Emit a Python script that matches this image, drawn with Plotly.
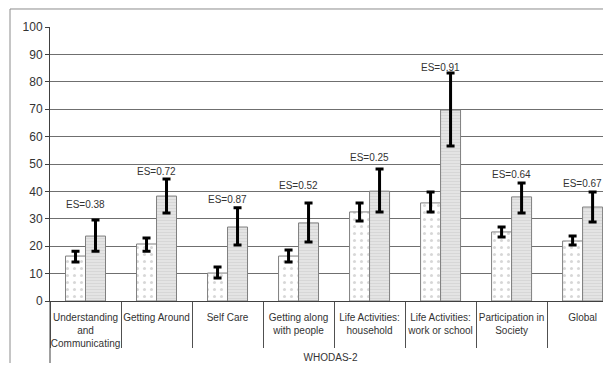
import plotly.graph_objects as go

# WHODAS-2 domains
categories = ["Understanding<br>and<br>Communicating", "Getting Around", "Self Care",
              "Getting along<br>with people", "Life Activities:<br>household",
              "Life Activities:<br>work or school", "Participation in<br>Society", "Global"]

# dotted bars (first group) with error bar ends
dotted = [16.4, 20.8, 10.2, 16.4, 32.5, 35.8, 25.2, 21.9]
dotted_hi = [18.2, 23.0, 12.4, 18.6, 35.8, 39.8, 27.0, 23.7]
dotted_lo = [14.2, 18.2, 8.4, 14.2, 29.2, 32.5, 23.4, 20.4]

# hatched bars (second group) with error bar ends
hatched = [23.7, 38.3, 27.0, 28.5, 40.1, 69.7, 38.0, 34.3]
hatched_hi = [29.6, 44.5, 34.0, 35.8, 48.2, 83.2, 43.1, 39.8]
hatched_lo = [18.2, 32.1, 20.4, 21.5, 32.5, 56.6, 32.1, 28.8]

# effect size labels and the height they sit at
es_text = ["ES=0.38", "ES=0.72", "ES=0.87", "ES=0.52", "ES=0.25", "ES=0.91", "ES=0.64", "ES=0.67"]
es_y = [35.2, 47.4, 37.0, 42.0, 52.2, 85.4, 46.3, 43.0]

y_ticks = list(range(0, 101, 10))

pos = list(range(len(categories)))
FONT = "Liberation Sans, Arial, sans-serif"
TXT = "#333333"
EDGE = "#7f7f7f"


def err(vals, hi, lo, thick):
    return dict(type="data", symmetric=False,
                array=[h - v for h, v in zip(hi, vals)],
                arrayminus=[v - l for v, l in zip(vals, lo)],
                color="black", thickness=thick, width=4)


fig = go.Figure()
fig.add_trace(go.Bar(
    x=pos, y=dotted, name="dotted",
    marker=dict(color="white", line=dict(color=EDGE, width=1),
                pattern=dict(shape=".", fgcolor="#b0b0b0", bgcolor="white", size=7, solidity=0.15)),
    error_y=err(dotted, dotted_hi, dotted_lo, 3)))
fig.add_trace(go.Bar(
    x=pos, y=hatched, name="hatched",
    marker=dict(color="#e4e4e4", line=dict(color=EDGE, width=1),
                pattern=dict(shape="-", fgcolor="#c8c8c8", bgcolor="#e4e4e4", size=3, solidity=0.3)),
    error_y=err(hatched, hatched_hi, hatched_lo, 3)))

for p, t, yv in zip(pos, es_text, es_y):
    fig.add_annotation(x=p, y=yv, text=t, showarrow=False, yanchor="middle",
                       font=dict(family=FONT, size=10, color=TXT))

# outer chart frame and extended left border of the label area
fig.add_shape(type="rect", xref="paper", yref="paper", x0=-0.0713, x1=1.05, y0=-0.4, y1=1.0657,
              line=dict(color="#8c8c8c", width=1), layer="above")
fig.add_shape(type="line", xref="paper", yref="paper", x0=0, x1=0, y0=0, y1=-0.24,
              line=dict(color="#404040", width=1))

# page body keeps an 8px margin all round, so the figure is shrunk to fit the window
fig.update_layout(
    width=603, height=355,
    margin=dict(l=42, r=0, t=19, b=62),
    paper_bgcolor="white", plot_bgcolor="white",
    barmode="group", bargap=0.437, bargroupgap=0,
    showlegend=False,
    font=dict(family=FONT, size=10, color=TXT),
    xaxis=dict(
        range=[-0.5, 7.4], tickvals=pos, ticktext=categories,
        ticks="", showgrid=False, zeroline=False, automargin=False,
        showline=True, linecolor="#404040", linewidth=1,
        ticklabelstandoff=7,
        tickfont=dict(family=FONT, size=10, color=TXT),
        minor=dict(tickvals=[k - 0.5 for k in range(9)], ticks="outside",
                   ticklen=46, tickcolor="#505050", tickwidth=1, showgrid=False),
        title=dict(text="WHODAS-2", standoff=10, font=dict(family=FONT, size=10, color=TXT)),
    ),
    yaxis=dict(
        range=[0, 100], tickvals=y_ticks, automargin=False,
        showgrid=True, gridcolor="#6f6f6f", gridwidth=1,
        zeroline=False, showline=True, linecolor="#404040", linewidth=1,
        ticks="outside", ticklen=4, tickcolor="#404040",
        tickfont=dict(family=FONT, size=12, color=TXT),
    ),
)

fig.write_html("out.html")
